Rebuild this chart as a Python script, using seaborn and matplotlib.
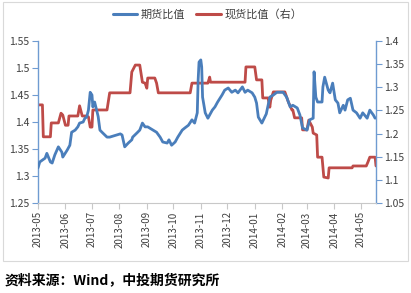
import matplotlib
matplotlib.use("Agg")
import matplotlib.pyplot as plt
from matplotlib.lines import Line2D
from matplotlib.patches import Rectangle
import pandas as pd
import seaborn as sns

sns.set_style("white")
plt.rcParams['font.family'] = ['Noto Sans CJK SC', 'DejaVu Sans']

# 期货比值 (left axis)
fut_dates = ["2013-05-01", "2013-05-03", "2013-05-09", "2013-05-11", "2013-05-15", "2013-05-17",
             "2013-05-20", "2013-05-24", "2013-05-28", "2013-05-29", "2013-06-03", "2013-06-06",
             "2013-06-08", "2013-06-12", "2013-06-15", "2013-06-17", "2013-06-21", "2013-06-23",
             "2013-06-25", "2013-06-27", "2013-06-29", "2013-07-01", "2013-07-02", "2013-07-04",
             "2013-07-07", "2013-07-08", "2013-07-10", "2013-07-13", "2013-07-18", "2013-07-21",
             "2013-07-25", "2013-07-29", "2013-08-02", "2013-08-04", "2013-08-07", "2013-08-11",
             "2013-08-15", "2013-08-16", "2013-08-21", "2013-08-24", "2013-08-27", "2013-08-30",
             "2013-09-02", "2013-09-08", "2013-09-12", "2013-09-16", "2013-09-19", "2013-09-24",
             "2013-09-26", "2013-09-29", "2013-10-03", "2013-10-06", "2013-10-11", "2013-10-14",
             "2013-10-18", "2013-10-22", "2013-10-25", "2013-10-28", "2013-10-29", "2013-10-30",
             "2013-11-01", "2013-11-02", "2013-11-03", "2013-11-06", "2013-11-09", "2013-11-14",
             "2013-11-17", "2013-11-20", "2013-11-25", "2013-11-28", "2013-12-02", "2013-12-06",
             "2013-12-10", "2013-12-13", "2013-12-18", "2013-12-21", "2013-12-24", "2013-12-29",
             "2014-01-01", "2014-01-03", "2014-01-05", "2014-01-09", "2014-01-14", "2014-01-18",
             "2014-01-22", "2014-01-26", "2014-01-29", "2014-02-02", "2014-02-06", "2014-02-10",
             "2014-02-13", "2014-02-18", "2014-02-21", "2014-02-24", "2014-03-01", "2014-03-04",
             "2014-03-08", "2014-03-09", "2014-03-11", "2014-03-13", "2014-03-18", "2014-03-19",
             "2014-03-21", "2014-03-25", "2014-03-27", "2014-03-30", "2014-04-02", "2014-04-05",
             "2014-04-07", "2014-04-11", "2014-04-13", "2014-04-16", "2014-04-19", "2014-04-22",
             "2014-04-26", "2014-04-30", "2014-05-03", "2014-05-08", "2014-05-11", "2014-05-15",
             "2014-05-17"]
fut_values = [1.315, 1.326, 1.333, 1.342, 1.326, 1.324,
              1.339, 1.354, 1.344, 1.335, 1.348, 1.357,
              1.381, 1.385, 1.391, 1.398, 1.400, 1.407,
              1.409, 1.422, 1.455, 1.450, 1.428, 1.437,
              1.417, 1.410, 1.385, 1.380, 1.372, 1.372,
              1.374, 1.376, 1.378, 1.376, 1.354, 1.361,
              1.367, 1.372, 1.380, 1.385, 1.398, 1.391,
              1.391, 1.385, 1.381, 1.372, 1.363, 1.361,
              1.367, 1.357, 1.363, 1.372, 1.385, 1.389,
              1.394, 1.404, 1.398, 1.417, 1.478, 1.511,
              1.515, 1.502, 1.446, 1.417, 1.407, 1.422,
              1.428, 1.437, 1.450, 1.459, 1.463, 1.455,
              1.459, 1.454, 1.465, 1.455, 1.459, 1.454,
              1.446, 1.435, 1.409, 1.398, 1.415, 1.446,
              1.450, 1.455, 1.455, 1.455, 1.446, 1.428,
              1.431, 1.426, 1.413, 1.389, 1.385, 1.404,
              1.407, 1.493, 1.446, 1.437, 1.437, 1.465,
              1.483, 1.459, 1.454, 1.472, 1.441, 1.435,
              1.417, 1.431, 1.422, 1.441, 1.444, 1.422,
              1.417, 1.407, 1.417, 1.407, 1.422, 1.413,
              1.407]

# 现货比值（右） (right axis)
spot_dates = ["2013-05-01", "2013-05-06", "2013-05-07", "2013-05-15", "2013-05-16", "2013-05-24",
              "2013-05-27", "2013-05-29", "2013-06-01", "2013-06-04", "2013-06-05", "2013-06-15",
              "2013-06-17", "2013-06-20", "2013-06-25", "2013-06-27", "2013-06-29", "2013-07-01",
              "2013-07-02", "2013-07-18", "2013-07-21", "2013-08-13", "2013-08-15", "2013-08-19",
              "2013-08-24", "2013-08-27", "2013-08-30", "2013-09-01", "2013-09-02", "2013-09-10",
              "2013-09-12", "2013-09-14", "2013-10-20", "2013-10-22", "2013-11-09", "2013-11-11",
              "2013-11-12", "2013-12-21", "2013-12-22", "2014-01-01", "2014-01-03", "2014-01-09",
              "2014-01-10", "2014-01-16", "2014-01-18", "2014-01-19", "2014-01-22", "2014-02-04",
              "2014-02-06", "2014-02-08", "2014-02-12", "2014-02-13", "2014-02-15", "2014-02-23",
              "2014-02-24", "2014-03-01", "2014-03-03", "2014-03-07", "2014-03-08", "2014-03-12",
              "2014-03-13", "2014-03-18", "2014-03-20", "2014-03-25", "2014-03-26", "2014-04-21",
              "2014-04-22", "2014-05-07", "2014-05-09", "2014-05-11", "2014-05-17", "2014-05-18"]
spot_values = [1.262, 1.262, 1.193, 1.193, 1.223, 1.223,
               1.244, 1.240, 1.218, 1.218, 1.238, 1.238,
               1.260, 1.238, 1.238, 1.236, 1.214, 1.214,
               1.251, 1.251, 1.288, 1.288, 1.333, 1.348,
               1.348, 1.311, 1.309, 1.298, 1.320, 1.320,
               1.309, 1.288, 1.288, 1.309, 1.309, 1.322,
               1.311, 1.311, 1.344, 1.344, 1.316, 1.316,
               1.277, 1.277, 1.257, 1.272, 1.290, 1.290,
               1.279, 1.268, 1.251, 1.251, 1.234, 1.234,
               1.208, 1.208, 1.229, 1.214, 1.201, 1.197,
               1.149, 1.149, 1.106, 1.104, 1.126, 1.126,
               1.130, 1.130, 1.139, 1.149, 1.149, 1.130]

left_ticks = [1.25, 1.3, 1.35, 1.4, 1.45, 1.5, 1.55]
right_ticks = [1.05, 1.1, 1.15, 1.2, 1.25, 1.3, 1.35, 1.4]
left_labels = ["1.25", "1.3", "1.35", "1.4", "1.45", "1.5", "1.55"]
right_labels = ["1.05", "1.1", "1.15", "1.2", "1.25", "1.3", "1.35", "1.4"]
month_ticks = ["2013-05", "2013-06", "2013-07", "2013-08", "2013-09", "2013-10", "2013-11",
               "2013-12", "2014-01", "2014-02", "2014-03", "2014-04", "2014-05"]
series_names = ["期货比值", "现货比值（右）"]
caption = "资料来源：Wind，中投期货研究所"

BLUE = "#4a7ebb"
RED = "#be4b48"
TXT = "#404040"

fut = pd.DataFrame({"date": pd.to_datetime(fut_dates), "value": fut_values})
spot = pd.DataFrame({"date": pd.to_datetime(spot_dates), "value": spot_values})

fig = plt.figure(figsize=(4.11, 2.93), dpi=100)
fig.patch.set_facecolor("white")
ax = fig.add_axes([38 / 411, 1 - 203 / 293, (376 - 38) / 411, (203 - 41) / 293])
ax2 = ax.twinx()

sns.lineplot(data=fut, x="date", y="value", ax=ax, color=BLUE, linewidth=2.0, zorder=3)
sns.lineplot(data=spot, x="date", y="value", ax=ax2, color=RED, linewidth=2.0, zorder=2)

ax.set_zorder(ax2.get_zorder() + 1)
ax.patch.set_visible(False)

ax.set_xlim(pd.Timestamp("2013-05-01"), pd.Timestamp("2014-05-18"))
ax.set_ylim(1.25, 1.55)
ax2.set_ylim(1.05, 1.4)
ax.set_yticks(left_ticks)
ax.set_yticklabels(left_labels)
ax2.set_yticks(right_ticks)
ax2.set_yticklabels(right_labels)
ax.set_xticks(pd.to_datetime(month_ticks))
ax.set_xticklabels(month_ticks, rotation=90)
ax.set_xlabel("")
ax.set_ylabel("")
ax2.set_xlabel("")
ax2.set_ylabel("")

spine_blue = "#6f9bd1"
for a in (ax, ax2):
    a.spines["top"].set_visible(False)
    a.spines["left"].set_color(spine_blue)
    a.spines["right"].set_color(spine_blue)
    a.spines["bottom"].set_color("#c8c8c8")
    a.spines["left"].set_linewidth(1.0)
    a.spines["right"].set_linewidth(1.0)
ax.spines["right"].set_visible(False)
ax2.spines["left"].set_visible(False)
ax2.spines["bottom"].set_visible(False)

ax.tick_params(axis="y", which="both", left=True, length=4, width=0.8, color=spine_blue,
               labelsize=7.5, labelcolor=TXT, pad=2)
ax.tick_params(axis="x", which="both", bottom=True, length=4, width=0.8, color="#c8c8c8",
               labelsize=7, labelcolor=TXT, pad=2)
ax2.tick_params(axis="y", which="both", right=True, length=4, width=0.8, color=spine_blue,
                labelsize=7.5, labelcolor=TXT, pad=2)

handles = [Line2D([], [], color=BLUE, linewidth=2.2), Line2D([], [], color=RED, linewidth=2.2)]
fig.legend(handles, series_names, loc="center", bbox_to_anchor=(0.505, 0.95), ncol=2,
           frameon=False, fontsize=8, handlelength=2.2, handletextpad=0.3, columnspacing=1.0,
           labelcolor=TXT)

# frame and separator
fig.add_artist(Rectangle((3 / 411, 1 - 261 / 293), (408 - 3) / 411, 261 / 293 - 2 / 293,
                         transform=fig.transFigure, fill=False, edgecolor="#d9d9d9", linewidth=0.8))
fig.text(5 / 411, 1 - 280 / 293, caption, fontsize=10, fontweight="bold", color="black",
         ha="left", va="center")

fig.savefig("out.png", dpi=100, facecolor="white")
